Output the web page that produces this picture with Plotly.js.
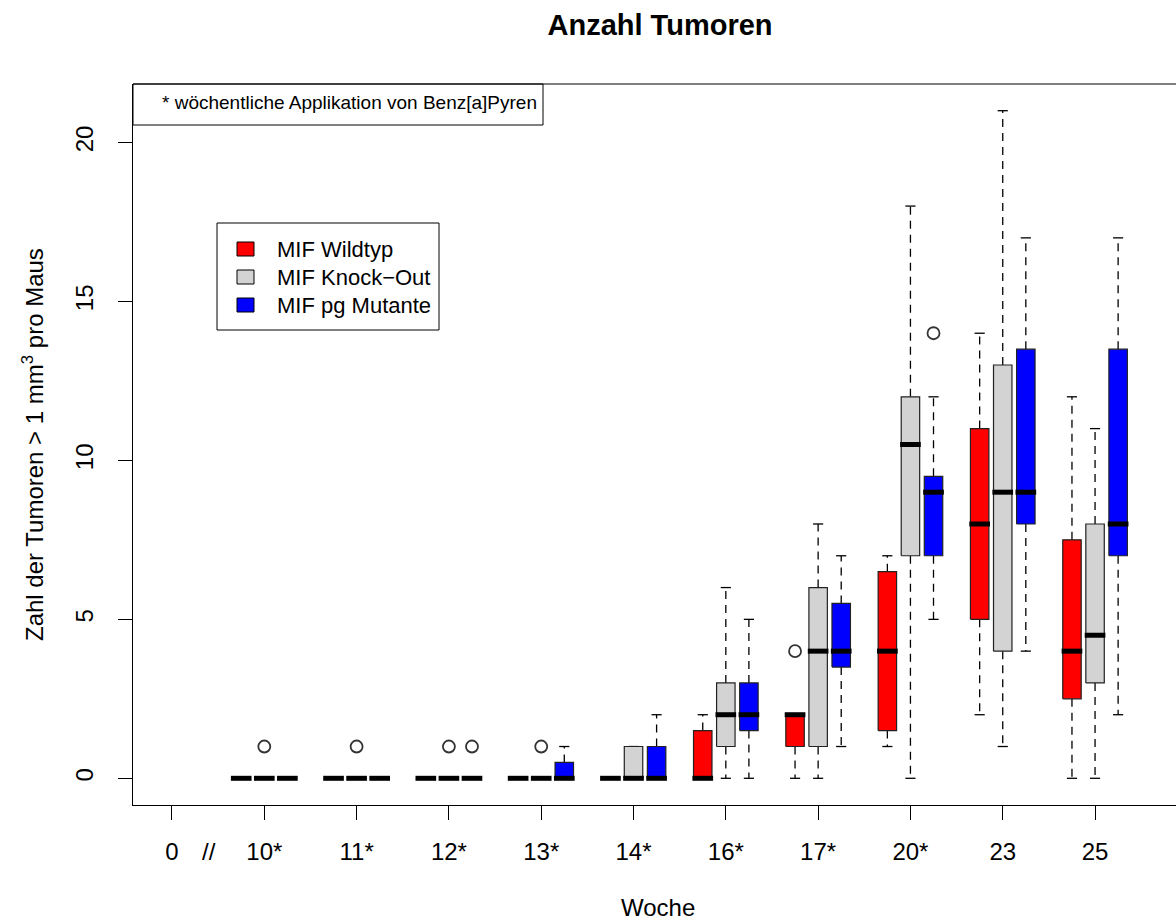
<!DOCTYPE html>
<html><head><meta charset="utf-8">
<script src="https://cdn.plot.ly/plotly-3.0.1.min.js"></script>
<style>html,body{margin:0;padding:0;overflow:hidden;background:#fff}</style>
</head><body><div id="chart" style="width:1176px;height:921px"></div>
<script>
// Tick labels (position 1..11) and data groups (positions 2..11)
const weeks = ['0','10*','11*','12*','13*','14*','16*','17*','20*','23','25'];
const groupWeeks = ['10*','11*','12*','13*','14*','16*','17*','20*','23','25'];
const seriesNames = ['MIF Wildtyp','MIF Knock\u2212Out','MIF pg Mutante'];
const seriesColors = ['#FF0000','#D3D3D3','#0000FF'];

// MIF Wildtyp
const wtLower = [0,0,0,0,0,0,0,1,2,0];
const wtQ1    = [0,0,0,0,0,0,1,1.5,5,2.5];
const wtMed   = [0,0,0,0,0,0,2,4,8,4];
const wtQ3    = [0,0,0,0,0,1.5,2,6.5,11,7.5];
const wtUpper = [0,0,0,0,0,2,2,7,14,12];
const wtOutWeek = ['17*'];
const wtOutVal  = [4];

// MIF Knock-Out
const koLower = [0,0,0,0,0,0,0,0,1,0];
const koQ1    = [0,0,0,0,0,1,1,7,4,3];
const koMed   = [0,0,0,0,0,2,4,10.5,9,4.5];
const koQ3    = [0,0,0,0,1,3,6,12,13,8];
const koUpper = [0,0,0,0,1,6,8,18,21,11];
const koOutWeek = ['10*','11*','12*','13*'];
const koOutVal  = [1,1,1,1];

// MIF pg Mutante
const muLower = [0,0,0,0,0,0,1,5,4,2];
const muQ1    = [0,0,0,0,0,1.5,3.5,7,8,7];
const muMed   = [0,0,0,0,0,2,4,9,9,8];
const muQ3    = [0,0,0,0.5,1,3,5.5,9.5,13.5,13.5];
const muUpper = [0,0,0,1,2,5,7,12,17,17];
const muOutWeek = ['12*','20*'];
const muOutVal  = [1,14];

const series = [
  {lower:wtLower,q1:wtQ1,med:wtMed,q3:wtQ3,upper:wtUpper,ow:wtOutWeek,ov:wtOutVal},
  {lower:koLower,q1:koQ1,med:koMed,q3:koQ3,upper:koUpper,ow:koOutWeek,ov:koOutVal},
  {lower:muLower,q1:muQ1,med:muMed,q3:muQ3,upper:muUpper,ow:muOutWeek,ov:muOutVal}
];

// layout geometry
const W = 1176, H = 921;
const mL = 133, mR = 0, mT = 84, mB = 116;
const plotW = W - mL - mR, plotH = H - mT - mB;
const xRange = [0.5776, 11.877];
const yRange = [-0.84, 21.84];
const offset = 0.25, halfW = 0.1, stapleW = 0.055, medExt = 0.012;
const FONT = '"Liberation Sans", Arial, sans-serif';

const pos = w => weeks.indexOf(w) + 1;
const px2x = px => (px - mL) / plotW;
const px2y = py => (H - mB - py) / plotH;

const whiskerTraces = [], stapleTraces = [], boxTraces = [], medTraces = [], outTraces = [];
series.forEach((s, si) => {
  const wx = [], wy = [], sx = [], sy = [], bx = [], by = [], mx = [], my = [];
  groupWeeks.forEach((g, i) => {
    const c = pos(g) + (si - 1) * offset;
    wx.push(c, c, null, c, c, null);
    wy.push(s.q3[i], s.upper[i], null, s.q1[i], s.lower[i], null);
    sx.push(c - stapleW, c + stapleW, null, c - stapleW, c + stapleW, null);
    sy.push(s.upper[i], s.upper[i], null, s.lower[i], s.lower[i], null);
    bx.push(c - halfW, c + halfW, c + halfW, c - halfW, c - halfW, null);
    by.push(s.q1[i], s.q1[i], s.q3[i], s.q3[i], s.q1[i], null);
    mx.push(c - halfW - medExt, c + halfW + medExt, null);
    my.push(s.med[i], s.med[i], null);
  });
  whiskerTraces.push({x:wx, y:wy, type:'scatter', mode:'lines', hoverinfo:'skip', showlegend:false,
    line:{color:'#000', width:1.3, dash:'8px,6px'}});
  stapleTraces.push({x:sx, y:sy, type:'scatter', mode:'lines', hoverinfo:'skip', showlegend:false,
    line:{color:'#000', width:1.3}});
  boxTraces.push({x:bx, y:by, type:'scatter', mode:'lines', fill:'toself', fillcolor:seriesColors[si],
    name:seriesNames[si], hoverinfo:'skip', showlegend:false, line:{color:'#222', width:1.2}});
  medTraces.push({x:mx, y:my, type:'scatter', mode:'lines', hoverinfo:'skip', showlegend:false,
    line:{color:'#000', width:5}});
  outTraces.push({x:s.ow.map(w => pos(w) + (si - 1) * offset), y:s.ov, type:'scatter', mode:'markers',
    hoverinfo:'skip', showlegend:false,
    marker:{symbol:'circle-open', size:12, color:'#333', line:{width:1.8, color:'#333'}}});
});

const data = [...whiskerTraces, ...stapleTraces, ...boxTraces, ...medTraces, ...outTraces];

// legend built from shapes + annotations
const shapes = [
  // top border of plot box
  {type:'line', xref:'paper', yref:'paper', x0:0, x1:1, y0:1, y1:1, line:{color:'#000', width:1}},
  // note box
  {type:'rect', xref:'paper', yref:'paper', x0:0, x1:px2x(543), y0:px2y(125), y1:1, line:{color:'#000', width:1}},
  // legend box
  {type:'rect', xref:'paper', yref:'paper', x0:px2x(217), x1:px2x(439), y0:px2y(330), y1:px2y(223),
   line:{color:'#000', width:1}, fillcolor:'#fff'}
];
const annotations = [
  {xref:'paper', yref:'paper', x:px2x(160), y:px2y(102), xanchor:'left', yanchor:'middle', showarrow:false,
   text:'* wöchentliche Applikation von Benz[a]Pyren', font:{family:FONT, size:19, color:'#000'}},
  {xref:'x', yref:'paper', x:1.4, y:px2y(851), xanchor:'center', yanchor:'middle', showarrow:false,
   text:'//', font:{family:FONT, size:24, color:'#000'}},
  {xref:'paper', yref:'paper', x:px2x(658), y:px2y(907), xanchor:'center', yanchor:'middle', showarrow:false,
   text:'Woche', font:{family:FONT, size:24, color:'#000'}},
  {xref:'paper', yref:'paper', x:px2x(33), y:px2y(445), xanchor:'center', yanchor:'middle', showarrow:false,
   textangle:-90, text:'Zahl der Tumoren &gt; 1 mm<sup>3</sup> pro Maus', font:{family:FONT, size:24, color:'#000'}}
];
seriesNames.forEach((n, i) => {
  const cy = 249 + i * 28;
  shapes.push({type:'rect', xref:'paper', yref:'paper', x0:px2x(237), x1:px2x(254), y0:px2y(cy + 7), y1:px2y(cy - 7),
    fillcolor:seriesColors[i], line:{color:'#000', width:1}});
  annotations.push({xref:'paper', yref:'paper', x:px2x(275), y:px2y(cy), xanchor:'left', yanchor:'middle',
    showarrow:false, text:n, font:{family:FONT, size:22, color:'#000'}});
});

const layout = {
  width:W, height:H, margin:{l:mL, r:mR, t:mT, b:mB, pad:0},
  paper_bgcolor:'#fff', plot_bgcolor:'#fff', showlegend:false,
  font:{family:FONT, size:24, color:'#000'},
  title:{text:'<b>Anzahl Tumoren</b>', font:{family:FONT, size:29, color:'#000'},
         xref:'container', yref:'container', x:660/W, xanchor:'center', y:1 - 25/H, yanchor:'middle'},
  xaxis:{range:xRange, tickvals:weeks.map((w, i) => i + 1), ticktext:weeks, showgrid:false, zeroline:false,
         showline:true, linecolor:'#000', linewidth:1, ticks:'outside', ticklen:14, tickcolor:'#000', tickwidth:1,
         ticklabelstandoff:11, tickfont:{family:FONT, size:24, color:'#000'}},
  yaxis:{range:yRange, tickvals:[0,5,10,15,20], showgrid:false, zeroline:false,
         showline:true, linecolor:'#000', linewidth:1, ticks:'outside', ticklen:14, tickcolor:'#000', tickwidth:1,
         tickangle:-90, ticklabelstandoff:15, tickfont:{family:FONT, size:24, color:'#000'}},
  shapes:shapes, annotations:annotations
};

Plotly.newPlot('chart', data, layout, {displayModeBar:false, staticPlot:true});
</script></body></html>
